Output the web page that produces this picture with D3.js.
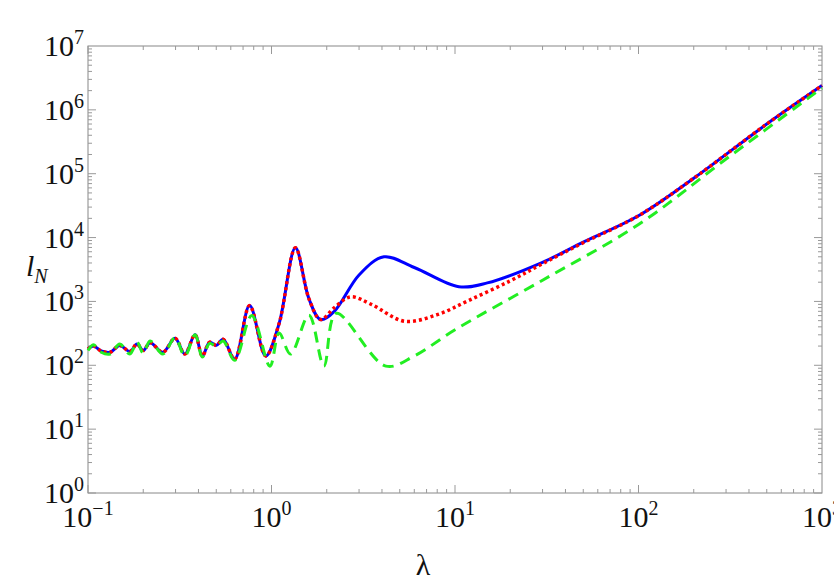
<!DOCTYPE html>
<html lang="en">
<head>
<meta charset="UTF-8">
<title>l_N vs lambda</title>
<script src="https://cdn.jsdelivr.net/npm/d3@7"></script>
<style>
  body { margin: 0; background: #fff; }
  text { font-family: 'Liberation Serif', 'DejaVu Serif', serif; fill: #111; }
</style>
</head>
<body>
<svg id="chart" width="834" height="582"></svg>
<script>
// [lambda, l_N]
const blueData = [
  [0.1,180],[0.107,200],[0.118,168],[0.132,160],[0.149,205],[0.169,165],[0.185,215],[0.2,170],
  [0.218,225],[0.256,160],[0.298,265],[0.337,150],[0.383,300],[0.42,140],[0.46,230],[0.5,205],
  [0.545,255],[0.63,125],[0.76,860],[0.93,140],[1.1,450],[1.35,6900],[1.6,1100],[1.85,520],
  [2.2,700],[3.0,2600],[4.1,5000],[6,3400],[10.5,1700],[15,1950],[30,4100],[50,8500],
  [100,22000],[200,85000],[500,600000],[1000,2400000]
];
const redData = [
  [0.1,180],[0.107,200],[0.118,168],[0.132,160],[0.149,205],[0.169,165],[0.185,215],[0.2,170],
  [0.218,225],[0.256,160],[0.298,265],[0.337,150],[0.383,300],[0.42,140],[0.46,230],[0.5,205],
  [0.545,255],[0.63,125],[0.76,860],[0.93,140],[1.1,450],[1.35,6900],[1.6,1100],[1.85,520],
  [2.2,800],[2.7,1180],[3.5,900],[5.3,490],[8,620],[12,1050],[20,2100],[30,3900],[50,8300],
  [100,22000],[200,85000],[500,600000],[1000,2400000]
];
const greenData = [
  [0.1,170],[0.107,210],[0.118,160],[0.132,150],[0.149,215],[0.169,150],[0.185,230],[0.2,155],
  [0.218,240],[0.256,150],[0.298,270],[0.337,140],[0.383,300],[0.42,135],[0.46,220],[0.5,200],
  [0.545,240],[0.63,120],[0.78,600],[0.98,97],[1.1,320],[1.27,150],[1.6,610],[1.93,97],
  [2.25,650],[4.2,97],[6,140],[10,360],[30,2150],[100,16000],[300,170000],[1000,2200000]
];
const xTicks = [0.1, 1, 10, 100, 1000];
const yTicks = [1, 10, 100, 1e3, 1e4, 1e5, 1e6, 1e7];

const svg = d3.select('#chart');
const pLeft = 88, pRight = 822, pTop = 46, pBottom = 493;

const x = d3.scaleLog().domain([0.1, 1000]).range([pLeft, pRight]);
const y = d3.scaleLog().domain([1, 1e7]).range([pBottom, pTop]);

// frame
svg.append('rect')
  .attr('x', pLeft).attr('y', pTop)
  .attr('width', pRight - pLeft).attr('height', pBottom - pTop)
  .attr('fill', 'none').attr('stroke', '#888').attr('stroke-width', 1);

// minor + major ticks
const tickG = svg.append('g').attr('stroke', '#999').attr('stroke-width', 1);
for (let e = -1; e < 3; e++) {
  for (let m = 1; m < 10; m++) {
    const v = m * Math.pow(10, e);
    const len = m === 1 ? 8 : 4;
    tickG.append('line').attr('x1', x(v)).attr('x2', x(v)).attr('y1', pBottom).attr('y2', pBottom - len);
    tickG.append('line').attr('x1', x(v)).attr('x2', x(v)).attr('y1', pTop).attr('y2', pTop + len);
  }
}
for (let e = 0; e < 7; e++) {
  for (let m = 1; m < 10; m++) {
    const v = m * Math.pow(10, e);
    const len = m === 1 ? 8 : 4;
    tickG.append('line').attr('y1', y(v)).attr('y2', y(v)).attr('x1', pLeft).attr('x2', pLeft + len);
    tickG.append('line').attr('y1', y(v)).attr('y2', y(v)).attr('x1', pRight).attr('x2', pRight - len);
  }
}

// tick labels
const pow = v => Math.round(Math.log10(v));
xTicks.forEach(v => {
  const t = svg.append('text').attr('x', x(v)).attr('y', pBottom + 34)
    .attr('text-anchor', 'middle').style('font-size', '30px');
  t.append('tspan').text('10');
  t.append('tspan').attr('dy', -12).style('font-size', '20px').text(pow(v) < 0 ? '\u2212' + Math.abs(pow(v)) : pow(v));
});
yTicks.forEach(v => {
  const t = svg.append('text').attr('x', pLeft - 4).attr('y', y(v) + 10)
    .attr('text-anchor', 'end').style('font-size', '30px');
  t.append('tspan').text('10');
  t.append('tspan').attr('dy', -12).style('font-size', '20px').text(pow(v));
});

// axis titles
svg.append('text').attr('x', x(10) - 32).attr('y', 575).attr('text-anchor', 'middle')
  .style('font-size', '30px').text('\u03bb');
const yl = svg.append('text').attr('x', 26).attr('y', 276).style('font-size', '30px').style('font-style', 'italic');
yl.append('tspan').text('l');
yl.append('tspan').attr('dy', 7).style('font-size', '20px').text('N');

// curves
const line = d3.line().x(d => x(d[0])).y(d => y(d[1])).curve(d3.curveCatmullRom.alpha(0.5));
const plot = svg.append('g');
plot.append('path').datum(blueData).attr('d', line)
  .attr('fill', 'none').attr('stroke', '#0000ff').attr('stroke-width', 3);
plot.append('path').datum(redData).attr('d', line)
  .attr('fill', 'none').attr('stroke', '#ff0000').attr('stroke-width', 3.5).attr('stroke-dasharray', '3,3');
plot.append('path').datum(greenData).attr('d', line)
  .attr('fill', 'none').attr('stroke', '#22ee22').attr('stroke-width', 3).attr('stroke-dasharray', '11,7');
</script>
</body>
</html>
